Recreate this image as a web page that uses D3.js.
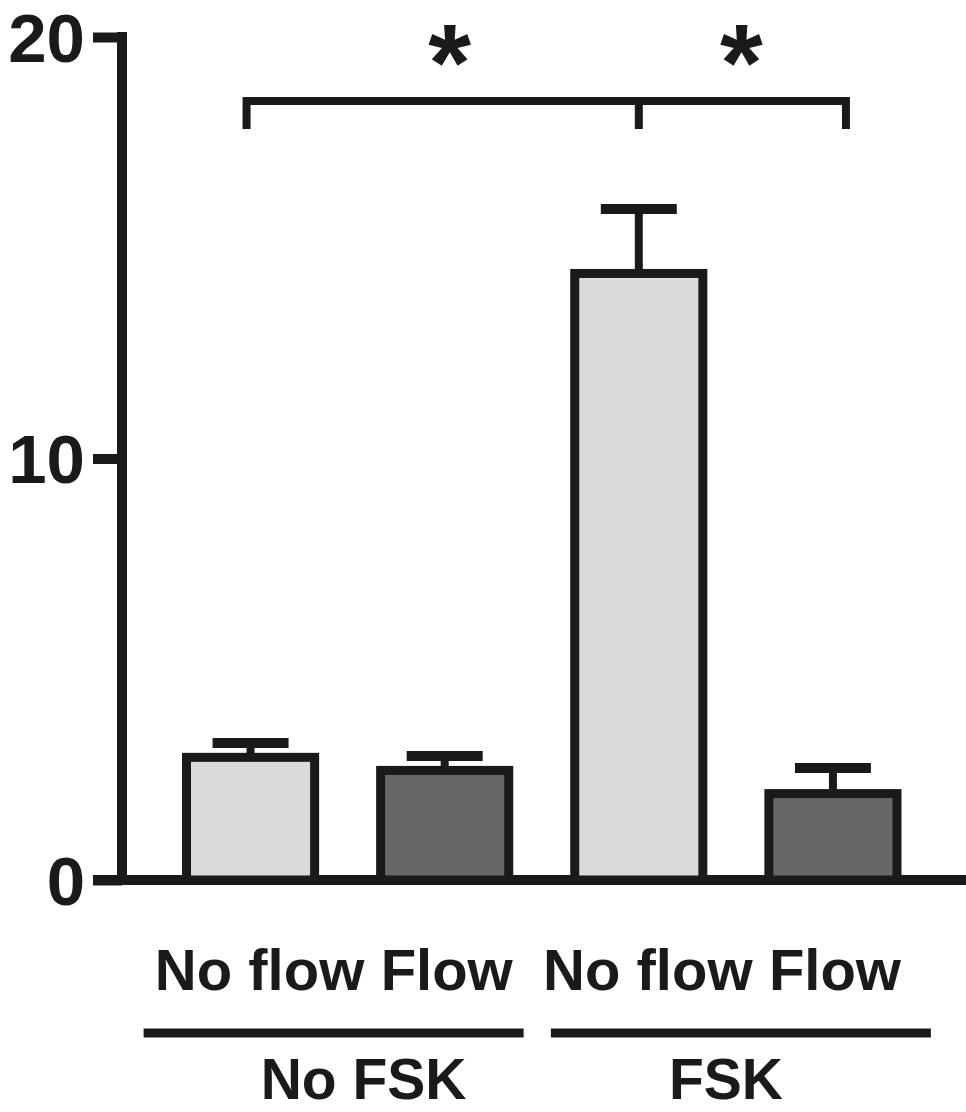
<!DOCTYPE html>
<html>
<head>
<meta charset="utf-8">
<script src="https://cdn.jsdelivr.net/npm/d3@7/dist/d3.min.js"></script>
<style>
  body { margin: 0; background: #fff; }
  text { font-family: "Liberation Sans", Arial, sans-serif; font-weight: bold; fill: #1a1a1a; }
</style>
</head>
<body>
<div id="chart"></div>
<script>
// bar data
var conditions = ["No flow", "Flow", "No flow", "Flow"];
var groups = ["No FSK", "No FSK", "FSK", "FSK"];
var groupNames = ["No FSK", "FSK"];
var means = [2.91, 2.60, 14.39, 2.05];
var errors = [0.34, 0.34, 1.53, 0.61];
var fills = ["#dadada", "#676767", "#dadada", "#676767"];
var yTicks = [0, 10, 20];

// significance bracket: bars 0..3 with a drop at bar 2, stars over the two spans
var bracketLevel = 18.48;
var bracketDrop = 17.82;
var stars = [{from: 0, to: 2}, {from: 2, to: 3}];

var width = 966, height = 1112;
var ink = "#1a1a1a";

var svg = d3.select("#chart").append("svg")
  .attr("width", width)
  .attr("height", height);

// Set the ranges
var ids = d3.range(means.length);
var x = d3.scaleBand().domain(ids).range([153.5, 930]).paddingInner(0.34).paddingOuter(0.17);
var y = d3.scaleLinear().domain([0, 20]).range([880, 37]);
var cx = function(i) { return x(i) + x.bandwidth() / 2; };

// Y axis
var yAxis = d3.axisLeft(y)
  .tickValues(yTicks)
  .tickSize(29)
  .tickPadding(8)
  .tickFormat(d3.format("d"));

var ag = svg.append("g")
  .attr("transform", "translate(122,0)")
  .call(yAxis);
ag.select(".domain").remove();
ag.selectAll(".tick line").attr("stroke", ink).attr("stroke-width", 10);
ag.selectAll(".tick text")
  .attr("x", -37)
  .attr("dy", null)
  .attr("y", 24)
  .style("font-size", "69px")
  .style("font-family", "'Liberation Sans', Arial, sans-serif")
  .style("font-weight", "bold")
  .attr("fill", ink);

// axis spine + baseline
svg.append("line")
  .attr("x1", 122).attr("x2", 122)
  .attr("y1", y(20) - 5).attr("y2", y(0) + 5)
  .attr("stroke", ink).attr("stroke-width", 10);
svg.append("line")
  .attr("x1", 93).attr("x2", width)
  .attr("y1", y(0)).attr("y2", y(0))
  .attr("stroke", ink).attr("stroke-width", 10);

// error bars (drawn first so the bar outline sits over the stem)
var eb = svg.append("g").selectAll("g").data(ids).enter().append("g");
eb.append("line")
  .attr("x1", cx).attr("x2", cx)
  .attr("y1", function(i) { return y(means[i]); })
  .attr("y2", function(i) { return y(means[i] + errors[i]); })
  .attr("stroke", ink).attr("stroke-width", 8);
eb.append("line")
  .attr("x1", function(i) { return cx(i) - 38; })
  .attr("x2", function(i) { return cx(i) + 38; })
  .attr("y1", function(i) { return y(means[i] + errors[i]); })
  .attr("y2", function(i) { return y(means[i] + errors[i]); })
  .attr("stroke", ink).attr("stroke-width", 10);

// bars
svg.append("g").selectAll("rect").data(ids).enter().append("rect")
  .attr("x", function(i) { return x(i); })
  .attr("width", x.bandwidth())
  .attr("y", function(i) { return y(means[i]); })
  .attr("height", function(i) { return y(0) - y(means[i]); })
  .attr("fill", function(i) { return fills[i]; })
  .attr("stroke", ink)
  .attr("stroke-width", 9);

// bracket
var bx0 = cx(0) - 4, bx1 = cx(3) + 13;
var by = y(bracketLevel), bd = y(bracketDrop);
svg.append("path")
  .attr("d", "M" + bx0 + "," + bd + "V" + by + "H" + bx1 + "V" + bd +
             "M" + cx(2) + "," + by + "V" + bd)
  .attr("fill", "none")
  .attr("stroke", ink)
  .attr("stroke-width", 8);

svg.append("g").selectAll("text").data(stars).enter().append("text")
  .attr("x", function(s) { return s.to === 3 ? (cx(2) + bx1) / 2 - 1 : (bx0 + cx(2)) / 2 + 7; })
  .attr("y", 100)
  .attr("text-anchor", "middle")
  .style("font-size", "110px")
  .text("*");

// condition labels
var condDx = {"No flow": 9, "Flow": 2};
svg.append("g").selectAll("text").data(ids).enter().append("text")
  .attr("x", function(i) { return cx(i) + condDx[conditions[i]]; })
  .attr("y", 990)
  .attr("text-anchor", "middle")
  .style("font-size", "58px")
  .text(function(i) { return conditions[i]; });

// group lines and labels
var gg = svg.append("g").selectAll("g").data(groupNames).enter().append("g");
var gCenter = function(g) {
  return d3.mean(ids.filter(function(i) { return groups[i] === g; }), cx);
};
var lineDx = {"No FSK": -14, "FSK": 5};
var labelDx = {"No FSK": 16, "FSK": -10};
gg.append("line")
  .attr("x1", function(g) { return gCenter(g) + lineDx[g] - 190; })
  .attr("x2", function(g) { return gCenter(g) + lineDx[g] + 190; })
  .attr("y1", 1033).attr("y2", 1033)
  .attr("stroke", ink).attr("stroke-width", 9);
gg.append("text")
  .attr("x", function(g) { return gCenter(g) + labelDx[g]; })
  .attr("y", 1099)
  .attr("text-anchor", "middle")
  .style("font-size", "57px")
  .text(function(g) { return g; });
</script>
</body>
</html>
